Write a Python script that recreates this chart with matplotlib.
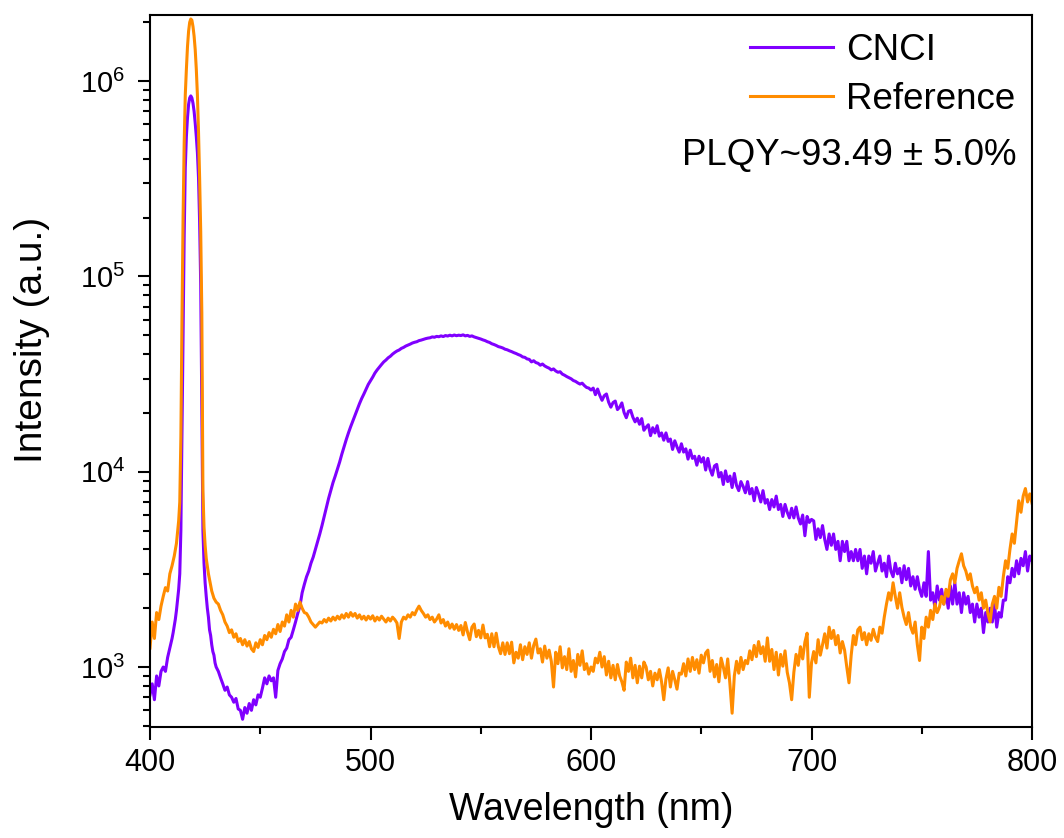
import matplotlib
matplotlib.use("Agg")
import matplotlib.pyplot as plt
from matplotlib.ticker import LogLocator, MultipleLocator, NullFormatter

plt.rcParams['font.family'] = ['Liberation Sans', 'DejaVu Sans']
plt.rcParams['mathtext.fontset'] = 'custom'
plt.rcParams['mathtext.rm'] = 'Liberation Sans'
plt.rcParams['mathtext.it'] = 'Liberation Sans'
plt.rcParams['mathtext.default'] = 'regular'

# ---------------- data ----------------
# wavelength grid: 1 nm steps, 0.5 nm around the excitation peak
WAVELENGTH = (list(range(400, 410))
              + [410 + 0.5 * i for i in range(41)]
              + list(range(431, 801)))

CNCI = [
    # 400-409
    720, 820, 680, 900, 800, 950, 1000, 950, 1120, 1250,
    # 410-430 (0.5 nm)
    1400, 1500, 1620, 1760, 1950, 2200, 2500, 3000, 5000, 15000,
    50000, 160000, 360000, 520000, 650000, 760000, 820000, 840000, 820000, 770000,
    700000, 610000, 520000, 430000, 320000, 190000, 90000, 20000, 5000, 3400,
    2700, 2300, 2000, 1800, 1550, 1450, 1300, 1200, 1150, 1050,
    1000,
    # 431-480
    950, 880, 820, 760, 790, 720, 700, 660, 690, 610,
    600, 540, 620, 580, 650, 600, 680, 640, 720, 700,
    780, 880, 820, 900, 850, 880, 700, 960, 1040, 1100,
    1200, 1250, 1380, 1420, 1550, 1700, 1880, 2050, 2400, 2650,
    2900, 3100, 3400, 3650, 4000, 4400, 4800, 5300, 5900, 6600,
    # 481-530
    7300, 8000, 8800, 9500, 10300, 11200, 12300, 13400, 14600, 15800,
    17000, 18200, 19500, 20800, 22300, 23700, 25000, 26500, 28000, 29200,
    30500, 32000, 33200, 34300, 35400, 36500, 37300, 38300, 39000, 40000,
    40800, 41500, 42000, 42800, 43300, 44000, 44500, 45000, 45600, 46000,
    46300, 46900, 47200, 47600, 48000, 48300, 48500, 49000, 48800, 49300,
    # 531-580
    49100, 49600, 49200, 49800, 49500, 50000, 49600, 50100, 49700, 50000,
    49800, 50200, 49600, 49900, 49300, 49600, 49000, 48600, 48200, 47800,
    47300, 46900, 46300, 45900, 45200, 44800, 44300, 43700, 43400, 43000,
    42400, 42100, 41600, 41200, 40700, 40300, 39800, 39400, 38700, 38500,
    37800, 37600, 36500, 37000, 36200, 35900, 35100, 35600, 34800, 34300,
    # 581-600
    33900, 33200, 33600, 32800, 32300, 32500, 31600, 31200, 30700, 30300,
    29900, 29300, 29000, 28500, 28100, 28400, 27600, 27000, 26800, 26200,
    # 601-650
    26800, 24800, 26500, 24600, 23200, 24500, 25000, 22700, 21400, 22600,
    23000, 20800, 21400, 22500, 20100, 18900, 20400, 20600, 19000, 18000,
    18800, 17500, 18700, 16300, 16900, 17400, 15300, 16800, 15800, 17200,
    15200, 15800, 14500, 15800, 14300, 14700, 13000, 14400, 13400, 12600,
    13900, 12600, 13100, 11600, 12900, 11700, 12000, 10800, 12000, 11200,
    # 651-700
    11800, 10200, 11700, 10300, 9600, 10700, 10900, 9400, 9900, 8600,
    10100, 8900, 9500, 8300, 9800, 8500, 8000, 8900, 8400, 7800,
    8900, 7700, 8200, 7100, 8300, 7700, 7000, 8000, 6900, 7200,
    6400, 7200, 6600, 7500, 6400, 6800, 5900, 6800, 6200, 5800,
    6500, 5800, 6600, 5800, 5400, 6000, 4700, 5900, 5500, 5700,
    # 701-750
    5600, 4500, 5100, 4600, 5300, 4500, 4000, 4800, 4200, 4800,
    4000, 4400, 3500, 4400, 3900, 4400, 3500, 3900, 3500, 4000,
    3500, 4000, 3200, 3700, 3000, 3700, 3400, 3900, 3100, 3400,
    3700, 3100, 3400, 2900, 3700, 3100, 2900, 3400, 3000, 3200,
    2700, 3300, 2800, 3200, 2600, 2900, 2500, 2900, 2500, 2300,
    # 751-800
    2700, 2300, 3900, 2200, 2400, 2000, 2600, 2200, 2500, 2100,
    2400, 2000, 2600, 2100, 2700, 2100, 2400, 1900, 2400, 2100,
    2300, 1900, 2100, 1700, 2100, 1800, 2000, 1500, 1900, 1700,
    2000, 1700, 2100, 1600, 1900, 1800, 2200, 2200, 2900, 2700,
    3200, 2900, 3500, 3000, 3600, 3300, 3900, 3100, 3700, 3500,
]

REFERENCE = [
    # 400-409
    1250, 1700, 1400, 1900, 1750, 2050, 2300, 2550, 2450, 3000,
    # 410-430 (0.5 nm)
    3300, 3500, 3700, 4000, 4300, 4900, 5600, 7000, 15000, 60000,
    200000, 480000, 850000, 1150000, 1500000, 1800000, 2000000, 2080000, 2050000, 1900000,
    1700000, 1450000, 1150000, 850000, 550000, 320000, 170000, 65000, 8000, 5200,
    4200, 3600, 3300, 3000, 2800, 2600, 2450, 2350, 2250, 2200,
    2150,
    # 431-480
    2100, 1950, 1850, 1700, 1620, 1500, 1550, 1420, 1480, 1350,
    1400, 1300, 1380, 1280, 1350, 1240, 1200, 1330, 1260, 1380,
    1300, 1450, 1380, 1500, 1420, 1560, 1480, 1650, 1520, 1700,
    1620, 1850, 1700, 1950, 1800, 2100, 1950, 2150, 2000, 1900,
    1880, 1800, 1700, 1650, 1600, 1650, 1700, 1680, 1750, 1700,
    # 481-530
    1780, 1720, 1800, 1740, 1820, 1760, 1850, 1780, 1880, 1800,
    1900, 1820, 1880, 1780, 1850, 1760, 1820, 1740, 1820, 1760,
    1830, 1720, 1800, 1740, 1820, 1760, 1700, 1780, 1720, 1800,
    1750, 1680, 1400, 1700, 1800, 1760, 1850, 1800, 1900, 1850,
    1960, 2050, 1950, 1880, 1800, 1850, 1750, 1800, 1700, 1760,
    # 531-540
    1850, 1680, 1750, 1620, 1700, 1580, 1660, 1560, 1650, 1540,
    # 541-580
    1630, 1460, 1690, 1510, 1380, 1600, 1660, 1430, 1540, 1410,
    1640, 1410, 1470, 1270, 1480, 1270, 1490, 1270, 1170, 1330,
    1160, 1330, 1170, 1340, 1050, 1190, 1110, 1300, 1090, 1270,
    1160, 1330, 1110, 1290, 1390, 1180, 1240, 1060, 1280, 1110,
    # 581-630
    1220, 1070, 790, 1190, 1040, 1270, 990, 1130, 970, 1240,
    950, 1080, 890, 1160, 1020, 1210, 970, 1040, 920, 1000,
    950, 1110, 1050, 1190, 1000, 1130, 910, 1070, 880, 1020,
    860, 1030, 900, 840, 760, 1060, 950, 1110, 880, 1020,
    830, 1010, 880, 1060, 1000, 860, 950, 800, 930, 860,
    # 631-680
    970, 840, 680, 870, 990, 790, 950, 860, 770, 930,
    920, 1040, 900, 1100, 950, 1120, 970, 1090, 930, 1150,
    1050, 1180, 1220, 950, 1080, 890, 1030, 840, 1110, 1000,
    880, 1100, 820, 580, 900, 1070, 930, 1120, 970, 1080,
    1040, 1210, 1090, 1290, 1130, 1350, 1170, 1270, 1070, 1410,
    # 681-730
    1070, 1230, 970, 1190, 910, 1160, 1010, 1210, 940, 830,
    680, 940, 1160, 1020, 1270, 1100, 1340, 1490, 700, 1050,
    1200, 1050, 1380, 1150, 1300, 1480, 1250, 1600, 1400, 1540,
    1300, 1450, 1180, 1350, 1220, 1000, 830, 1150, 1450, 1300,
    1550, 1600, 1380, 1500, 1300, 1480, 1370, 1560, 1420, 1350,
    # 731-780
    1600, 1490, 1800, 2100, 2400, 2200, 2700, 2300, 2000, 2400,
    2020, 1800, 1650, 1900, 1600, 1490, 1700, 1300, 1080, 1600,
    1400, 1800, 1600, 1950, 1750, 2100, 1900, 2020, 2300, 2100,
    2500, 2300, 2800, 3000, 2700, 3200, 3500, 3800, 3300, 3100,
    2800, 3000, 2600, 2400, 2560, 2200, 2400, 2000, 2200, 1880,
    # 781-800
    1700, 2100, 2300, 2000, 2560, 2300, 2900, 3500, 3200, 4000,
    4800, 4300, 5500, 7100, 6200, 7500, 8200, 7000, 7700, 6900,
]

SERIES_LABELS = ["CNCI", "Reference"]
SERIES_COLORS = ["#8000FF", "#FF8C00"]
X_TICKS = [400, 500, 600, 700, 800]
ANNOTATION = "PLQY~93.49 \u00b1 5.0%"

assert len(WAVELENGTH) == len(CNCI) == len(REFERENCE)

# ---------------- figure ----------------
W, H = 1064, 838
fig = plt.figure(figsize=(W / 100, H / 100), dpi=100)
ax = fig.add_axes([150 / W, (H - 727) / H, 882 / W, 712 / H])

for ys, lab, col in zip([CNCI, REFERENCE], SERIES_LABELS, SERIES_COLORS):
    ax.plot(WAVELENGTH, ys, color=col, lw=2.2, label=lab)

ax.set_yscale('log')
ax.set_xlim(400, 800)
ax.set_ylim(493, 2.18e6)

ax.set_xticks(X_TICKS)
ax.xaxis.set_minor_locator(MultipleLocator(50))
ax.yaxis.set_major_locator(LogLocator(base=10, numticks=10))
ax.yaxis.set_minor_locator(LogLocator(base=10, subs=range(2, 10), numticks=20))
ax.yaxis.set_minor_formatter(NullFormatter())

ax.tick_params(which='both', direction='out', top=False, right=False, width=1.5)
ax.tick_params(which='major', length=9, labelsize=22)
ax.tick_params(axis='x', which='major', pad=6)
ax.tick_params(axis='y', which='major', pad=9, labelsize=21)
ax.tick_params(which='minor', length=5)
for s in ax.spines.values():
    s.set_linewidth(1.5)

ax.set_xlabel("Wavelength (nm)", fontsize=27, labelpad=10)
ax.set_ylabel("Intensity (a.u.)", fontsize=28)
ax.yaxis.set_label_coords(-0.113, (727 - 340) / 712)

ax.legend(loc='upper right', bbox_to_anchor=(1.0, 0.998), frameon=False,
          fontsize=26.5, handlelength=2.25, handletextpad=0.35,
          labelspacing=0.37, borderaxespad=0.0, borderpad=0.45)
ax.text((1017 - 150) / 882, (727 - 155) / 712, ANNOTATION, transform=ax.transAxes,
        ha='right', va='center', fontsize=26.4)

fig.savefig("out.png", dpi=100)
